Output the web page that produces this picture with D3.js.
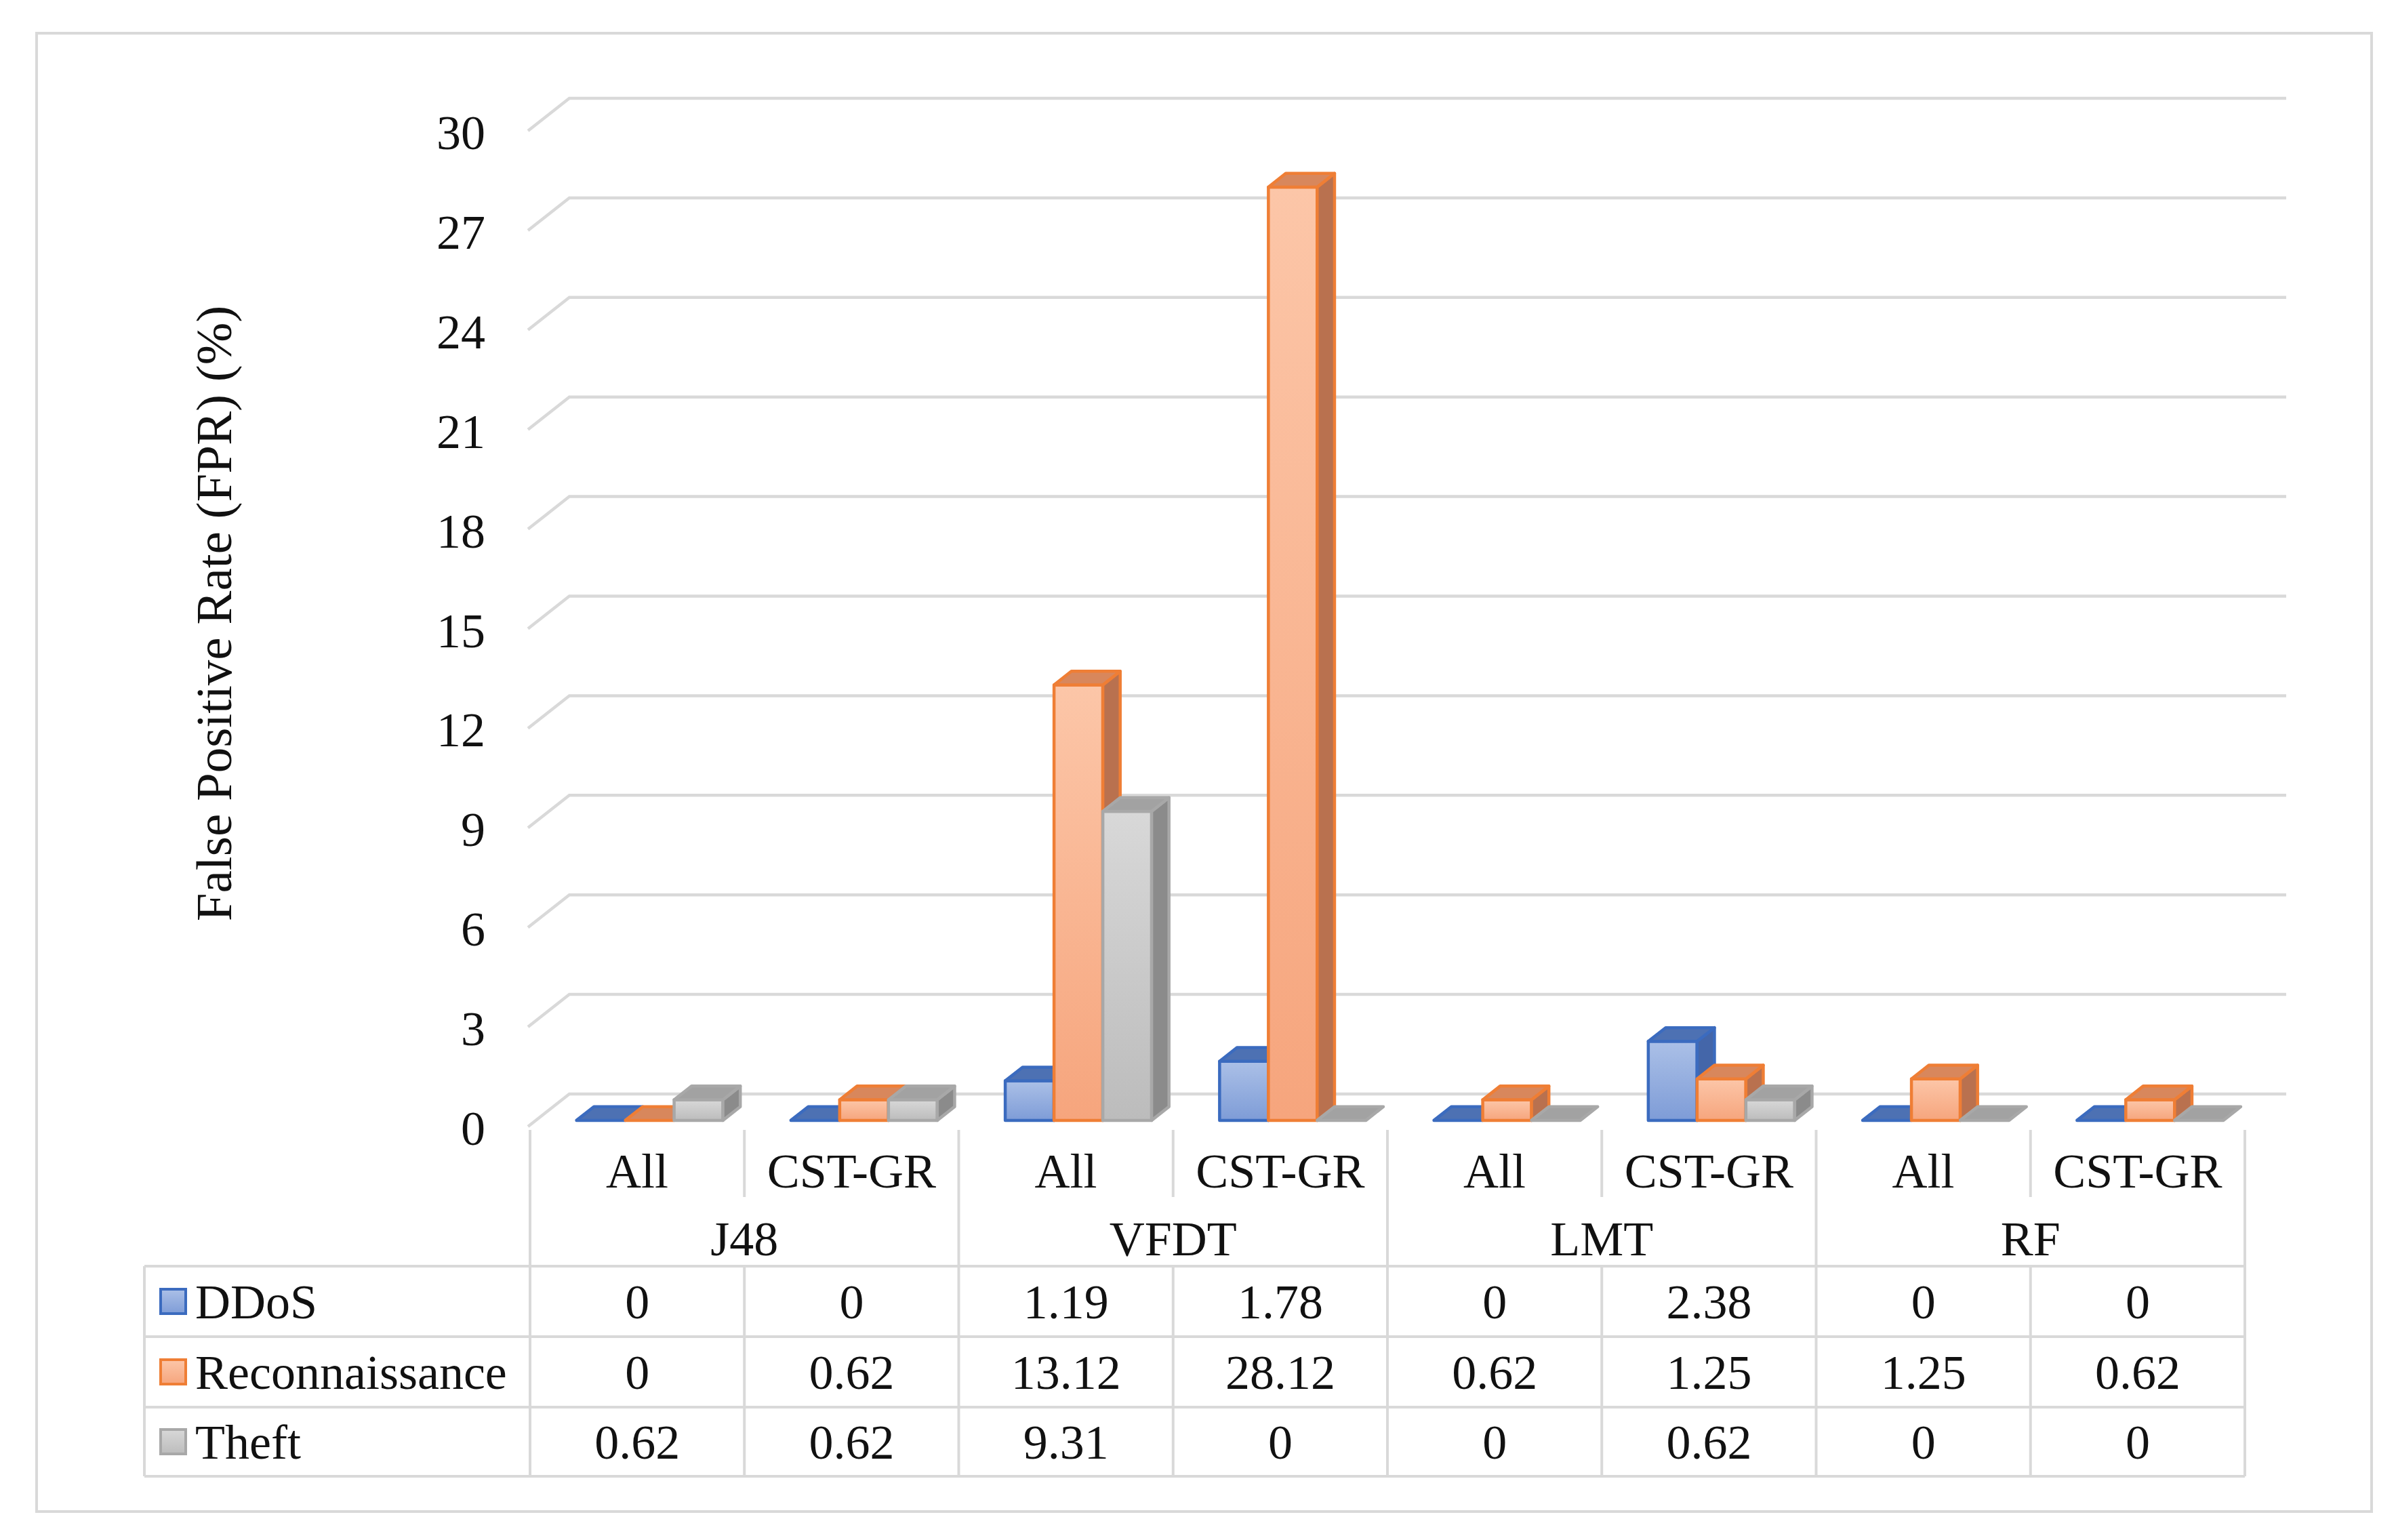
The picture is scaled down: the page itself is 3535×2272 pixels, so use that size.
<!DOCTYPE html>
<html>
<head>
<meta charset="utf-8">
<script src="https://cdn.jsdelivr.net/npm/d3@7"></script>
<style>
  body { margin: 0; background: #fff; }
  svg { display: block; }
  text { font-family: "Liberation Serif", "Times New Roman", serif; fill: #111; }
</style>
</head>
<body>
<div class="chart"></div>
<script>
// data
const groups = ['J48', 'VFDT', 'LMT', 'RF'];
const subLabels = ['All', 'CST-GR'];
const series = ['DDoS', 'Reconnaissance', 'Theft'];
const ddos = [0, 0, 1.19, 1.78, 0, 2.38, 0, 0];
const recon = [0, 0.62, 13.12, 28.12, 0.62, 1.25, 1.25, 0.62];
const theft = [0.62, 0.62, 9.31, 0, 0, 0.62, 0, 0];
const yTicks = [0, 3, 6, 9, 12, 15, 18, 21, 24, 27, 30];

const W = 3535, H = 2272;
const cats = [];
groups.forEach(g => subLabels.forEach(s => cats.push(g + '|' + s)));
const values = { DDoS: ddos, Reconnaissance: recon, Theft: theft };

// 3d look: back wall is shifted right/up
const DX = 61, DY = 48;
const d0 = 0.19, d1 = 0.61;

const colors = {
  DDoS: { top: '#abc0e7', bot: '#7e9cd7', edge: '#3b6bbf', lid: '#4d71b3', side: '#4466a9' },
  Reconnaissance: { top: '#fcc6a8', bot: '#f6a57d', edge: '#ef7e35', lid: '#d8875c', side: '#b9714f' },
  Theft: { top: '#d8d8d8', bot: '#bcbcbc', edge: '#a8a8a8', lid: '#a2a2a2', side: '#8b8b8b' }
};

const svg = d3.select('.chart')
  .append('svg')
  .attr('width', W)
  .attr('height', H);

const defs = svg.append('defs');
series.forEach((s, i) => {
  const gr = defs.append('linearGradient')
    .attr('id', 'grad' + i)
    .attr('x1', 0).attr('y1', 0).attr('x2', 0).attr('y2', 1);
  gr.append('stop').attr('offset', '0%').attr('stop-color', colors[s].top);
  gr.append('stop').attr('offset', '100%').attr('stop-color', colors[s].bot);
});

// outer frame
svg.append('rect')
  .attr('x', 54).attr('y', 49)
  .attr('width', 3445).attr('height', 2181)
  .attr('fill', '#fff')
  .attr('stroke', '#d9d9d9')
  .attr('stroke-width', 4);

const x = d3.scaleBand()
  .domain(cats)
  .range([782, 3312]);

const inner = d3.scaleBand()
  .domain(series)
  .range([57, 273]);

const y = d3.scaleLinear()
  .domain([0, 30])
  .range([1662, 193]);

// gridlines (side wall + back wall)
svg.append('g')
  .selectAll('path')
  .data(yTicks)
  .join('path')
  .attr('d', v => `M${x.range()[0] - 3},${y(v)} L${x.range()[0] - 3 + DX},${y(v) - DY} L${x.range()[1] + DX},${y(v) - DY}`)
  .attr('fill', 'none')
  .attr('stroke', '#d9d9d9')
  .attr('stroke-width', 4.5);

// y tick labels
svg.append('g')
  .selectAll('text')
  .data(yTicks)
  .join('text')
  .attr('x', 716)
  .attr('y', v => y(v) + 27)
  .attr('text-anchor', 'end')
  .attr('font-size', 72)
  .text(v => v);

// y title
svg.append('text')
  .attr('transform', 'translate(341, 905) rotate(-90)')
  .attr('text-anchor', 'middle')
  .attr('font-size', 75)
  .text('False Positive Rate (FPR) (%)');

// bars
const barsG = svg.append('g');
cats.forEach((c, ci) => {
  series.forEach((s, si) => {
    const v = values[s][ci];
    const bw = inner.bandwidth();
    const fx = x(c) + inner(s) + d0 * DX;
    const fb = y(0) - d0 * DY;
    const ft = y(v) - d0 * DY;
    const ddx = (d1 - d0) * DX, ddy = (d1 - d0) * DY;
    const col = colors[s];
    const g = barsG.append('g')
      .attr('stroke', col.edge)
      .attr('stroke-width', 4.5)
      .attr('stroke-linejoin', 'round');
    if (v > 0) {
      g.append('rect')
        .attr('x', fx).attr('y', ft)
        .attr('width', bw).attr('height', fb - ft)
        .attr('fill', `url(#grad${si})`);
      g.append('path')
        .attr('d', `M${fx + bw},${ft} L${fx + bw + ddx},${ft - ddy} L${fx + bw + ddx},${fb - ddy} L${fx + bw},${fb} Z`)
        .attr('fill', col.side);
    }
    g.append('path')
      .attr('d', `M${fx},${ft} L${fx + ddx},${ft - ddy} L${fx + bw + ddx},${ft - ddy} L${fx + bw},${ft} Z`)
      .attr('fill', col.lid);
  });
});

// table below the plot
const tbl = svg.append('g')
  .attr('stroke', '#d9d9d9')
  .attr('stroke-width', 4);
const rowLines = [1868, 1972, 2076, 2178];
const tableLeft = 213;

rowLines.forEach(ry => {
  tbl.append('line')
    .attr('x1', tableLeft).attr('x2', x.range()[1])
    .attr('y1', ry).attr('y2', ry);
});
tbl.append('line')
  .attr('x1', tableLeft).attr('x2', tableLeft)
  .attr('y1', rowLines[0]).attr('y2', rowLines[3]);

// column separators
const edges = cats.map(c => x(c)).concat([x.range()[1]]);
edges.forEach((ex, i) => {
  if (i % 2 === 0) {
    tbl.append('line')
      .attr('x1', ex).attr('x2', ex)
      .attr('y1', 1667).attr('y2', rowLines[3]);
  } else {
    tbl.append('line')
      .attr('x1', ex).attr('x2', ex)
      .attr('y1', 1667).attr('y2', 1766);
    tbl.append('line')
      .attr('x1', ex).attr('x2', ex)
      .attr('y1', rowLines[0]).attr('y2', rowLines[3]);
  }
});

// category labels
svg.append('g')
  .selectAll('text')
  .data(cats)
  .join('text')
  .attr('x', c => x(c) + x.bandwidth() / 2)
  .attr('y', 1752)
  .attr('text-anchor', 'middle')
  .attr('font-size', 72)
  .text(c => c.split('|')[1]);

svg.append('g')
  .selectAll('text')
  .data(groups)
  .join('text')
  .attr('x', g => x(g + '|All') + x.bandwidth())
  .attr('y', 1852)
  .attr('text-anchor', 'middle')
  .attr('font-size', 72)
  .text(g => g);

// data rows with legend keys
const rowCenters = [1920, 2024, 2127];
series.forEach((s, si) => {
  const cy = rowCenters[si];
  svg.append('rect')
    .attr('x', 237).attr('y', cy - 18)
    .attr('width', 37).attr('height', 36)
    .attr('fill', `url(#grad${si})`)
    .attr('stroke', colors[s].edge)
    .attr('stroke-width', 4);
  svg.append('text')
    .attr('x', 288)
    .attr('y', cy + 25)
    .attr('font-size', 72)
    .text(s);
  svg.append('g')
    .selectAll('text')
    .data(values[s])
    .join('text')
    .attr('x', (v, i) => x(cats[i]) + x.bandwidth() / 2)
    .attr('y', cy + 25)
    .attr('text-anchor', 'middle')
    .attr('font-size', 72)
    .text(v => v);
});
</script>
</body>
</html>
